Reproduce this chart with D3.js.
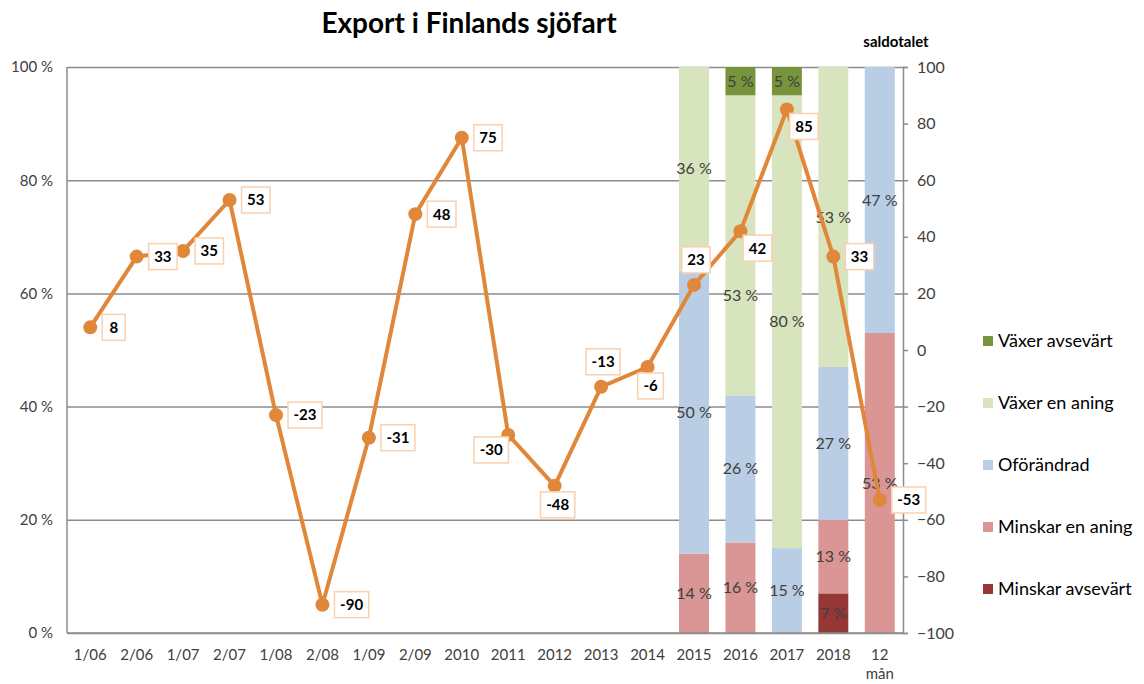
<!DOCTYPE html>
<html>
<head>
<meta charset="utf-8">
<script src="https://cdn.jsdelivr.net/npm/d3@7"></script>
<style>
	body { margin: 0; background: #fff; }
	text { font-family: Lato, "Open Sans", sans-serif; }
</style>
</head>
<body>
<div id="chart"></div>
<script>
///////////////////////////////////////////////////////////////////////////
///////////////////////////////// Data ////////////////////////////////////
///////////////////////////////////////////////////////////////////////////

var categories = ["1/06","2/06","1/07","2/07","1/08","2/08","1/09","2/09","2010","2011","2012","2013","2014","2015","2016","2017","2018","12 mån"];
var saldotal = [8, 33, 35, 53, -23, -90, -31, 48, 75, -30, -48, -13, -6, 23, 42, 85, 33, -53];
//where the data label sits relative to the point
var labelPos = ["r","r","r","r","r","r","r","r","r","bl","b","a","b","a","br","br","r","r"];

var barCategories = ["2015","2016","2017","2018","12 mån"];
var minskarAvsevart = [0, 0, 0, 7, 0];
var minskarEnAning = [14, 16, 0, 13, 53];
var oforandrad = [50, 26, 15, 27, 47];
var vaxerEnAning = [36, 53, 80, 53, 0];
var vaxerAvsevart = [0, 5, 5, 0, 0];

var seriesNames = ["Minskar avsevärt","Minskar en aning","Oförändrad","Växer en aning","Växer avsevärt"];
var seriesColors = ["#953735","#d99694","#b9cde5","#d7e4bd","#77933c"];
var pctTicks = [0, 20, 40, 60, 80, 100];
var saldoTicks = [-100, -80, -60, -40, -20, 0, 20, 40, 60, 80, 100];

///////////////////////////////////////////////////////////////////////////
//////////////////////////////// Set up ///////////////////////////////////
///////////////////////////////////////////////////////////////////////////

var width = 1144, height = 684;
var plot = {left: 67, right: 903, top: 67, bottom: 633};
var lineColor = "#e0873a",
	gridColor = "#8c8c8c",
	textColor = "#404040";

var svg = d3.select("#chart").append("svg")
	.attr("width", width)
	.attr("height", height);

var x = d3.scaleBand()
	.domain(categories)
	.range([plot.left, plot.right])
	.paddingInner(0.355)
	.paddingOuter(0.355/2);

var yPct = d3.scaleLinear().domain([0, 100]).range([plot.bottom, plot.top]);
var ySaldo = d3.scaleLinear().domain([-100, 100]).range([plot.bottom, plot.top]);

//Title
svg.append("text")
	.attr("x", 469)
	.attr("y", 33)
	.attr("text-anchor", "middle")
	.style("font-size", "28px")
	.style("font-weight", "bold")
	.style("fill", "#000")
	.text("Export i Finlands sjöfart");

svg.append("text")
	.attr("x", 896)
	.attr("y", 47)
	.attr("text-anchor", "middle")
	.style("font-size", "15px")
	.style("font-weight", "bold")
	.style("fill", "#000")
	.text("saldotalet");

///////////////////////////////////////////////////////////////////////////
///////////////////////////////// Axes ////////////////////////////////////
///////////////////////////////////////////////////////////////////////////

//Gridlines + left axis
var leftAxis = svg.append("g")
	.attr("transform", "translate(" + plot.left + ",0)")
	.call(d3.axisLeft(yPct)
		.tickValues(pctTicks)
		.tickSize(-(plot.right - plot.left))
		.tickPadding(14)
		.tickFormat(function(d) { return d + " %"; }));
leftAxis.select(".domain").remove();
leftAxis.selectAll("line").style("stroke", gridColor).style("stroke-width", 1.5);
leftAxis.selectAll("text").style("font-size", "15px").style("fill", textColor).style("font-family", "Lato, sans-serif");

//Stacked bars
var barData = barCategories.map(function(c, i) {
	return {
		cat: c,
		"Minskar avsevärt": minskarAvsevart[i],
		"Minskar en aning": minskarEnAning[i],
		"Oförändrad": oforandrad[i],
		"Växer en aning": vaxerEnAning[i],
		"Växer avsevärt": vaxerAvsevart[i]
	};
});
var stacked = d3.stack().keys(seriesNames)(barData);

var barGroups = svg.append("g").selectAll("g")
	.data(stacked)
	.enter().append("g")
	.style("fill", function(d, i) { return seriesColors[i]; });

barGroups.selectAll("rect")
	.data(function(d) { return d.filter(function(s) { return s[1] - s[0] > 0; }); })
	.enter().append("rect")
	.attr("x", function(d) { return x(d.data.cat); })
	.attr("width", x.bandwidth())
	.attr("y", function(d) { return yPct(d[1]); })
	.attr("height", function(d) { return yPct(d[0]) - yPct(d[1]); });

//Axis lines on top of bars
svg.append("line")
	.attr("x1", plot.left).attr("x2", plot.left)
	.attr("y1", plot.top).attr("y2", plot.bottom)
	.style("stroke", gridColor).style("stroke-width", 1.5);
svg.append("line")
	.attr("x1", plot.left).attr("x2", plot.right)
	.attr("y1", plot.bottom).attr("y2", plot.bottom)
	.style("stroke", gridColor).style("stroke-width", 1.5);

//Right axis
var rightAxis = svg.append("g")
	.attr("transform", "translate(" + plot.right + ",0)")
	.call(d3.axisRight(ySaldo)
		.tickValues(saldoTicks)
		.tickSize(5)
		.tickPadding(9));
rightAxis.select(".domain").style("stroke", gridColor).style("stroke-width", 1.5);
rightAxis.selectAll("line").style("stroke", gridColor).style("stroke-width", 1.5);
rightAxis.selectAll("text").style("font-size", "16px").style("fill", textColor).style("font-family", "Lato, sans-serif");

//Bottom axis labels
var bottomAxis = svg.append("g")
	.attr("transform", "translate(0," + plot.bottom + ")")
	.call(d3.axisBottom(x).tickSize(0).tickPadding(16));
bottomAxis.select(".domain").remove();
bottomAxis.selectAll("text")
	.style("font-size", "15px")
	.style("fill", textColor)
	.style("font-family", "Lato, sans-serif")
	.each(function(d) {
		var parts = d.split(" ");
		if (parts.length > 1) {
			var t = d3.select(this).text(null);
			parts.forEach(function(p, i) {
				t.append("tspan").attr("x", 0).attr("dy", i === 0 ? "0.71em" : "1.3em").text(p);
			});
			t.attr("dy", null);
		}
	});

//Bar segment labels (the 2016 "Växer en aning" label sits lower, clear of the line label)
var segLabelNudge = function(d, key) {
	return (d.data.cat === "2016" && key === "Växer en aning") ? 50 : 0;
};
barGroups.selectAll(".segLabel")
	.data(function(d) {
		var key = d.key;
		return d.filter(function(s) { return s[1] - s[0] > 0; }).map(function(s) { s.key = key; return s; });
	})
	.enter().append("text")
	.attr("class", "segLabel")
	.attr("x", function(d) { return x(d.data.cat) + x.bandwidth()/2; })
	.attr("y", function(d) { return (yPct(d[0]) + yPct(d[1]))/2 + segLabelNudge(d, d.key); })
	.attr("dy", "0.35em")
	.attr("text-anchor", "middle")
	.style("font-size", "16px")
	.style("fill", textColor)
	.text(function(d) { return (d[1] - d[0]) + " %"; });

///////////////////////////////////////////////////////////////////////////
///////////////////////////////// Line ////////////////////////////////////
///////////////////////////////////////////////////////////////////////////

var cx = function(i) { return x(categories[i]) + x.bandwidth()/2; };

var line = d3.line()
	.x(function(d, i) { return cx(i); })
	.y(function(d) { return ySaldo(d); });

svg.append("path")
	.datum(saldotal)
	.attr("d", line)
	.style("fill", "none")
	.style("stroke", lineColor)
	.style("stroke-width", 4)
	.style("stroke-linejoin", "round");

svg.append("g").selectAll("circle")
	.data(saldotal)
	.enter().append("circle")
	.attr("cx", function(d, i) { return cx(i); })
	.attr("cy", function(d) { return ySaldo(d); })
	.attr("r", 7)
	.style("fill", lineColor);

//Data labels in boxes
var offsets = {
	r:  [0, 0],
	a:  [2, -25],
	b:  [3, 19],
	bl: [-17, 15],
	br: [17, 17]
};

var labels = svg.append("g").selectAll("g")
	.data(saldotal)
	.enter().append("g");

labels.append("text")
	.attr("text-anchor", "middle")
	.attr("dy", "0.36em")
	.style("font-size", "15px")
	.style("font-weight", "bold")
	.style("fill", "#000")
	.text(function(d) { return d; });

labels.insert("rect", "text")
	.each(function() {
		var bb = this.parentNode.querySelector("text").getBBox();
		var w = Math.max(bb.width + 11, 23);
		d3.select(this)
			.attr("x", -w/2)
			.attr("y", -13)
			.attr("width", w)
			.attr("height", 26);
	})
	.style("fill", "#fff")
	.style("stroke", "#fbd0ad")
	.style("stroke-width", 1.5);

// right-side labels start just next to the point
labels.attr("transform", function(d, i) {
	var o = offsets[labelPos[i]];
	var w = +d3.select(this).select("rect").attr("width");
	var dx = labelPos[i] === "r" ? 12 + w/2 : o[0];
	return "translate(" + (cx(i) + dx) + "," + (ySaldo(d) + o[1]) + ")";
});

///////////////////////////////////////////////////////////////////////////
//////////////////////////////// Legend ///////////////////////////////////
///////////////////////////////////////////////////////////////////////////

var legendOrder = seriesNames.slice().reverse();
var legend = svg.append("g").selectAll("g")
	.data(legendOrder)
	.enter().append("g")
	.attr("transform", function(d, i) { return "translate(983," + (341 + i*62) + ")"; });

legend.append("rect")
	.attr("x", 0).attr("y", -5)
	.attr("width", 10).attr("height", 10)
	.style("fill", function(d) { return seriesColors[seriesNames.indexOf(d)]; });

legend.append("text")
	.attr("x", 15)
	.attr("dy", "0.36em")
	.style("font-size", "18px")
	.style("fill", "#000")
	.text(function(d) { return d; });
</script>
</body>
</html>
